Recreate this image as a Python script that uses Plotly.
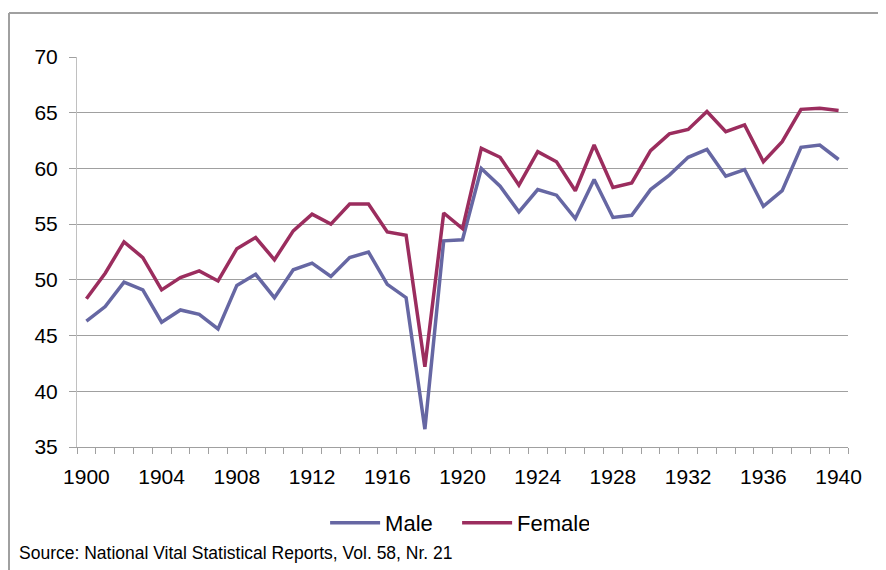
import plotly.graph_objects as go

years = list(range(1900, 1941))
male = [46.3, 47.6, 49.8, 49.1, 46.2, 47.3, 46.9, 45.6, 49.5, 50.5,
        48.4, 50.9, 51.5, 50.3, 52.0, 52.5, 49.6, 48.4, 36.6, 53.5,
        53.6, 60.0, 58.4, 56.1, 58.1, 57.6, 55.5, 59.0, 55.6, 55.8,
        58.1, 59.4, 61.0, 61.7, 59.3, 59.9, 56.6, 58.0, 61.9, 62.1, 60.8]
female = [48.3, 50.6, 53.4, 52.0, 49.1, 50.2, 50.8, 49.9, 52.8, 53.8,
          51.8, 54.4, 55.9, 55.0, 56.8, 56.8, 54.3, 54.0, 42.2, 56.0,
          54.6, 61.8, 61.0, 58.5, 61.5, 60.6, 58.0, 62.1, 58.3, 58.7,
          61.6, 63.1, 63.5, 65.1, 63.3, 63.9, 60.6, 62.4, 65.3, 65.4, 65.2]
x_ticks = list(range(1900, 1941, 4))
y_ticks = [35, 40, 45, 50, 55, 60, 65, 70]

FONT = "Liberation Sans, Arial, sans-serif"

fig = go.Figure()
fig.add_trace(go.Scatter(x=years, y=male, name="Male", mode="lines",
                         line=dict(color="#6667A3", width=3.5)))
fig.add_trace(go.Scatter(x=years, y=female, name="Female", mode="lines",
                         line=dict(color="#9B2D5E", width=3.5)))

fig.update_layout(
    width=878, height=562,
    margin=dict(l=69, r=38, t=49, b=123),
    paper_bgcolor="white", plot_bgcolor="white",
    font=dict(family=FONT, size=21, color="black"),
    showlegend=True,
    legend=dict(orientation="h", x=0.493, xanchor="center", y=-0.195, yanchor="middle",
                font=dict(size=22), itemwidth=50, entrywidth=67, entrywidthmode="pixels",
                traceorder="normal", tracegroupgap=0,
                bgcolor="rgba(0,0,0,0)"),
    xaxis=dict(range=[1899.5, 1940.5], tickmode="array", tickvals=x_ticks,
               ticks="", ticklen=0, showgrid=False, zeroline=False,
               showline=True, linecolor="#A0A0A0", linewidth=1,
               ticklabelstandoff=11,
               minor=dict(tick0=1899.5, dtick=1, ticks="outside", ticklen=6,
                          tickcolor="#A0A0A0", showgrid=False)),
    yaxis=dict(range=[35, 70], tickmode="array", tickvals=y_ticks,
               ticks="outside", ticklen=7, tickcolor="#A0A0A0",
               showgrid=True, gridcolor="#A0A0A0", gridwidth=1, zeroline=False,
               showline=True, linecolor="#C0C0C0", linewidth=1,
               ticklabelstandoff=7),
    annotations=[dict(text="Source: National Vital Statistical Reports, Vol. 58, Nr. 21",
                      xref="paper", yref="paper", x=-0.0778, y=-0.2718,
                      xanchor="left", yanchor="middle", showarrow=False,
                      font=dict(size=17.5, family=FONT, color="black"))],
    shapes=[
        dict(type="line", xref="paper", yref="paper", x0=-0.0882, x1=1.2,
             y0=1.1128, y1=1.1128, line=dict(color="#A0A0A0", width=2)),
        dict(type="line", xref="paper", yref="paper", x0=-0.0882, x1=-0.0882,
             y0=1.1128, y1=-0.4, line=dict(color="#A0A0A0", width=2)),
    ],
)

fig.write_html("out.html")
